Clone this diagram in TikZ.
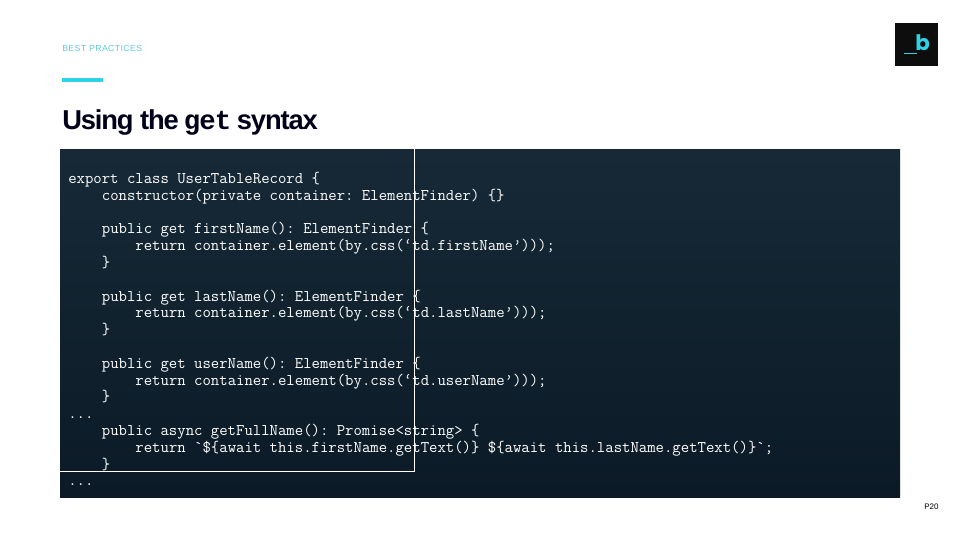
\documentclass[tikz,border=0pt]{standalone}
\usepackage{fontspec}
\setmainfont{Liberation Sans}
\newfontfamily\sectionfont[LetterSpace=4]{Liberation Sans}
\newfontfamily\titlefont[LetterSpace=-4.2]{Liberation Sans}
\newfontfamily\titlemono[LetterSpace=-3.5]{Liberation Mono}
\newfontfamily\logofont{Poppins}
\definecolor{accent}{HTML}{2FD3E6}
\definecolor{labelcyan}{HTML}{62CBD8}
\definecolor{paneltop}{HTML}{172937}
\definecolor{panelbottom}{HTML}{0B1A26}
\newcommand{\ind}{\hspace*{25.2pt}}
\newcommand{\indd}{\hspace*{50.4pt}}
\tikzset{
	textnode/.style={inner sep=0pt, anchor=base west},
	codeblock/.style={inner sep=0pt, anchor=north west, align=left, text=white, font=\ttfamily\frenchspacing\fontsize{12.22}{12.6}\selectfont},
}

\begin{document}
\begin{tikzpicture}[x=0.75pt, y=-0.75pt]
	\useasboundingbox (0, 0) rectangle (960, 540);
	\node[textnode, text=labelcyan, font=\sectionfont\fontsize{6.6}{8}\selectfont] (section) at (62, 51) {BEST PRACTICES};
	\fill [accent] (62, 78) rectangle (103, 82);
	\node[textnode, text=black!90!blue, font=\titlefont\bfseries\fontsize{20.5}{24}\selectfont] (title) at (62, 129) {Using the\hspace{-1pt} {\titlemono get}\hspace{-0.5pt} syntax};
	% logo
	\fill [black!95!white] (895, 23) rectangle (938, 66);
	\node[textnode, text=accent, font=\logofont\bfseries\fontsize{16}{20}\selectfont] (logob) at (915, 50) {b};
	\fill [accent] (904, 52.5) rectangle (917, 54);
	% code panel
	\shade [top color=paneltop, bottom color=panelbottom] (60, 149) rectangle (900, 497);
	\node[codeblock] (code) at (68, 172) {%
export class UserTableRecord \{\\
\ind constructor(private container: ElementFinder) \{\}\\
\mbox{}\\
\ind public get firstName(): ElementFinder \{\\
\indd return container.element(by.css(‘td.firstName’)));\\
\ind \}\\
\mbox{}\\
\ind public get lastName(): ElementFinder \{\\
\indd return container.element(by.css(‘td.lastName’)));\\
\ind \}\\
\mbox{}\\
\ind public get userName(): ElementFinder \{\\
\indd return container.element(by.css(‘td.userName’)));\\
\ind \}\\
...\\
\ind public async getFullName(): Promise<string> \{\\
\indd return `\$\{await this.firstName.getText()\} \$\{await this.lastName.getText()\}`;\\
\ind \}\\
...};
	\draw [white, line width=0.75pt] (414, 149) -- (414, 471) -- (60, 471);
	\node[textnode, text=black, font=\fontsize{6}{7}\selectfont] (page) at (924, 509) {P20};
\end{tikzpicture}
\end{document}
